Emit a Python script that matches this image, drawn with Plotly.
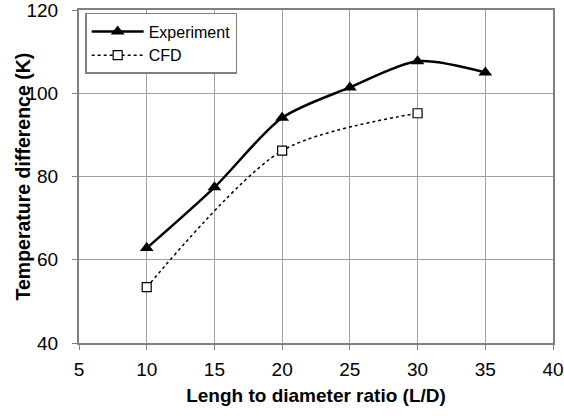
import plotly.graph_objects as go

# dados
ld_exp = [10, 15, 20, 25, 30, 35]
dt_exp = [62.8, 77.4, 94.1, 101.4, 107.7, 105.0]

ld_cfd = [10, 20, 30]
dt_cfd = [53.4, 86.2, 95.2]

FONT = "Liberation Sans, Arial, sans-serif"

fig = go.Figure()

fig.add_trace(go.Scatter(
    x=ld_exp, y=dt_exp, mode='lines+markers', name='Experiment',
    line=dict(color='black', width=2.5, shape='spline', smoothing=0.8),
    marker=dict(symbol='triangle-up', size=12, color='black')
))

fig.add_trace(go.Scatter(
    x=ld_cfd, y=dt_cfd, mode='lines+markers', name='CFD',
    line=dict(color='black', width=1.5, dash='dot', shape='spline', smoothing=0.8),
    marker=dict(symbol='square', size=9, color='white', line=dict(color='black', width=1.2))
))

fig.update_layout(
    width=564, height=416,
    margin=dict(l=79, r=11, t=10, b=73),
    plot_bgcolor='white', paper_bgcolor='white',
    font=dict(family=FONT, color='black', size=19),
    legend=dict(
        x=0.013, y=0.991, xanchor='left', yanchor='top',
        bgcolor='white', bordercolor='#808080', borderwidth=1.5,
        font=dict(size=16), tracegroupgap=0, itemwidth=52
    ),
    xaxis=dict(
        title=dict(text='<b>Lengh to diameter ratio (L/D)</b>', font=dict(size=19), standoff=10),
        range=[5, 40], dtick=5, tick0=5, automargin=False,
        showgrid=True, gridcolor='#a0a0a0', gridwidth=1.2,
        showline=True, linecolor='#808080', linewidth=2, mirror=True,
        ticks='outside', ticklen=5, tickcolor='#808080', zeroline=False,
        ticklabelstandoff=3, ticklabeloverflow='allow'
    ),
    yaxis=dict(
        range=[40, 120], dtick=20, automargin=False,
        showgrid=True, gridcolor='#a0a0a0', gridwidth=1.2,
        showline=True, linecolor='#808080', linewidth=2, mirror=True,
        ticks='outside', ticklen=5, tickcolor='#808080', zeroline=False,
        ticklabelstandoff=10, ticklabeloverflow='allow'
    )
)

# título do eixo y como anotação para acertar a posição
fig.add_annotation(
    text='<b>Temperature difference (K)</b>', textangle=-90,
    xref='paper', yref='paper', x=-57 / 474, y=0.5,
    xanchor='center', yanchor='middle', showarrow=False,
    font=dict(size=19.5, family=FONT, color='black')
)

# tira a margem padrão do body para a figura ocupar a janela toda
fig.write_html("out.html", config={'displayModeBar': False},
               post_script="document.body.style.margin='0';")
